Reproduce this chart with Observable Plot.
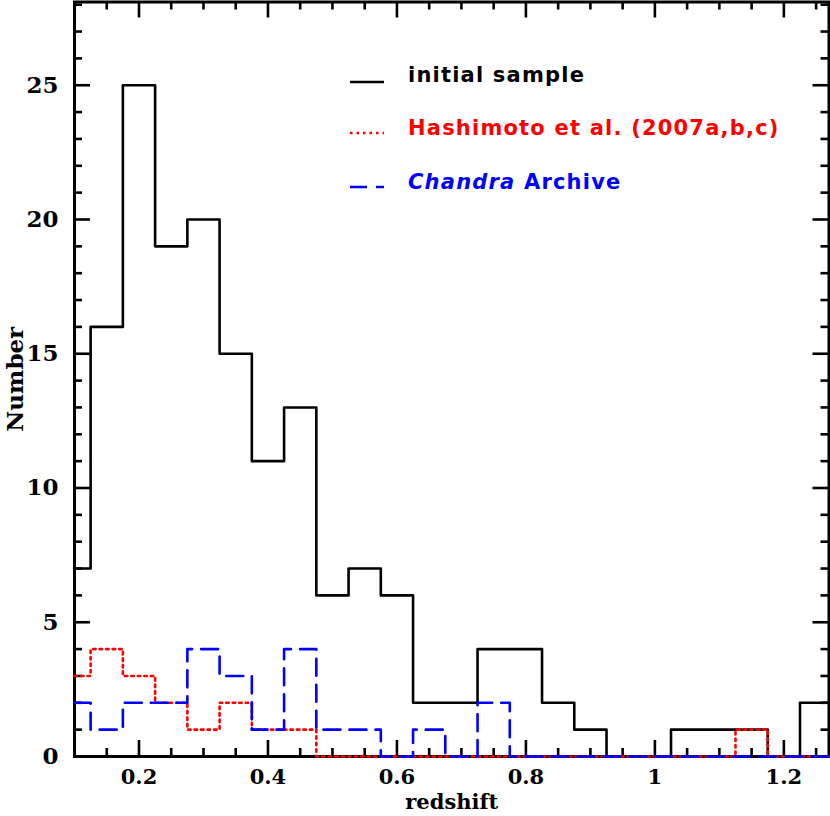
<!DOCTYPE html>
<html><head><meta charset="utf-8">
<script src="https://cdn.jsdelivr.net/npm/d3@7"></script>
<script src="https://cdn.jsdelivr.net/npm/@observablehq/plot@0.6"></script>
<style>
body{margin:0;background:#fff;}
#wrap{position:relative;width:830px;height:816px;}
.leg{position:absolute;left:350px;font-family:"DejaVu Sans";font-weight:bold;font-size:21px;letter-spacing:1.2px;white-space:nowrap;line-height:1;}
.leg svg{position:absolute;left:0;}
.leg span.t{position:absolute;left:58px;top:0;}
</style></head><body><div id="wrap"></div>
<script>
// lower bin edges (bin width 0.05), last upper edge
const binEdges = [0.075,0.125,0.175,0.225,0.275,0.325,0.375,0.425,0.475,0.525,0.575,0.625,0.675,0.725,0.775,0.825,0.875,0.925,0.975,1.025,1.075,1.125,1.175,1.225];
const lastEdge = 1.275;
const initialSample = [7,16,25,19,20,15,11,13,6,7,6,2,2,4,4,2,1,0,0,1,1,1,0,2];
const hashimoto     = [3,4,3,2,1,2,1,1,0,0,0,0,0,0,0,0,0,0,0,0,0,1,0,0];
const chandra       = [2,1,2,2,4,3,1,4,1,1,0,1,0,2,0,0,0,0,0,0,0,0,0,0];
const seriesNames = ["initial sample","Hashimoto et al. (2007a,b,c)","Archive"];
const xMajor = [0.2,0.4,0.6,0.8,1.0,1.2];
const xMinor = [0.1,0.15,0.25,0.3,0.35,0.45,0.5,0.55,0.65,0.7,0.75,0.85,0.9,0.95,1.05,1.1,1.15,1.25];
const yMajor = [0,5,10,15,20,25];
const yMinor = [1,2,3,4,6,7,8,9,11,12,13,14,16,17,18,19,21,22,23,24,26,27,28];

const xDomain=[0.1,1.27];
function steps(counts){
  const rows = binEdges.map((e,i)=>({x:e,y:counts[i]}));
  rows.push({x:lastEdge,y:counts[counts.length-1]});
  // limit to the visible x range
  return rows.map(r=>({x:Math.min(Math.max(r.x,xDomain[0]),xDomain[1]),y:r.y}));
}
const W=830,H=816,mL=74,mR=1.5,mT=1.5,mB=60;
const innerH=H-mT-mB, innerW=W-mL-mR;
const font={fontFamily:"DejaVu Serif",fontWeight:"bold",fontSize:"22px",color:"#000",background:"#fff"};

const chart = Plot.plot({
  width:W,height:H,marginLeft:mL,marginRight:mR,marginTop:mT,marginBottom:mB,
  style:font,
  x:{domain:xDomain},
  y:{domain:[0,28.1]},
  marks:[
    Plot.frame({stroke:"#000",strokeWidth:3}),
    // ticks bottom/top
    Plot.tickX(xMajor,{x:d=>d,insetTop:innerH-16,strokeWidth:2.6}),
    Plot.tickX(xMinor,{x:d=>d,insetTop:innerH-8,strokeWidth:2.6}),
    Plot.tickX(xMajor,{x:d=>d,insetBottom:innerH-16,strokeWidth:2.6}),
    Plot.tickX(xMinor,{x:d=>d,insetBottom:innerH-8,strokeWidth:2.6}),
    // ticks left/right
    Plot.tickY(yMajor,{y:d=>d,insetRight:innerW-16,strokeWidth:2.6}),
    Plot.tickY(yMinor,{y:d=>d,insetRight:innerW-8,strokeWidth:2.6}),
    Plot.tickY(yMajor,{y:d=>d,insetLeft:innerW-16,strokeWidth:2.6}),
    Plot.tickY(yMinor,{y:d=>d,insetLeft:innerW-8,strokeWidth:2.6}),
    Plot.line(steps(initialSample),{x:"x",y:"y",curve:"step-after",stroke:"#000",strokeWidth:2.6}),
    Plot.line(steps(hashimoto),{x:"x",y:"y",curve:"step-after",stroke:"#ff0000",strokeWidth:2.6,strokeDasharray:"2.5,4"}),
    Plot.line(steps(chandra),{x:"x",y:"y",curve:"step-after",stroke:"#0000ff",strokeWidth:2.6,strokeDasharray:"17,9"}),
    Plot.axisX({ticks:xMajor,tickSize:0,tickPadding:13,fontSize:21,tickFormat:d=>String(+d.toFixed(1)),label:"redshift",labelAnchor:"center",labelArrow:"none",labelOffset:52}),
    Plot.axisY({ticks:yMajor,tickSize:0,tickPadding:16,fontSize:23,label:"Number",labelAnchor:"center",labelArrow:"none",labelOffset:68})
  ]
});
const wrap=document.getElementById("wrap");
wrap.appendChild(chart);

const legendRows=[
  {top:65,color:"#000",dash:null,lineY:17,html:seriesNames[0]},
  {top:118,color:"#ff0000",dash:"2.5,4",lineY:15,html:seriesNames[1]},
  {top:172,color:"#0000ff",dash:"17,9",lineY:15,html:'<i>Chandra</i> '+seriesNames[2]}
];
legendRows.forEach(r=>{
  const d=document.createElement("div");d.className="leg";d.style.top=r.top+"px";d.style.color=r.color;
  d.innerHTML=`<svg width="40" height="24"><line x1="0" x2="34" y1="${r.lineY}" y2="${r.lineY}" stroke="${r.color}" stroke-width="2.6" ${r.dash?`stroke-dasharray="${r.dash}"`:""}/></svg><span class="t">${r.html}</span>`;
  wrap.appendChild(d);
});
</script></body></html>
